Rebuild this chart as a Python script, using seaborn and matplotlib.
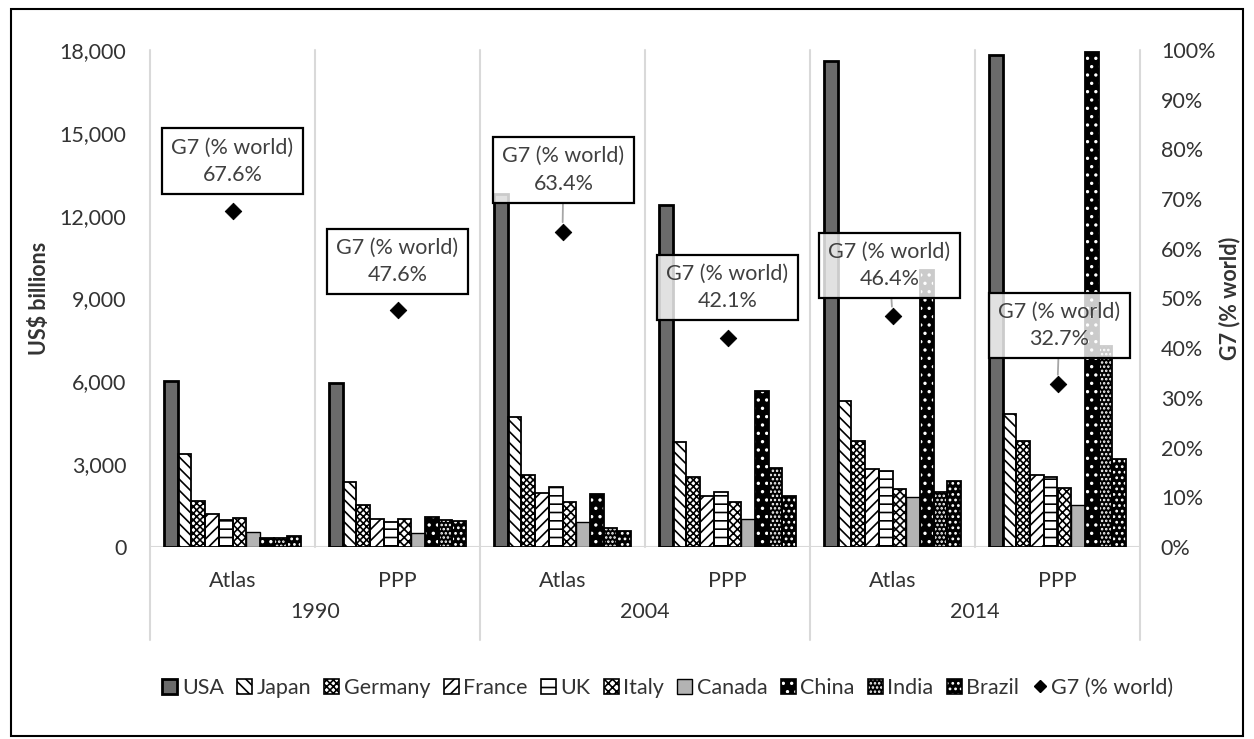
import numpy as np
import pandas as pd
import matplotlib
matplotlib.use("Agg")
import matplotlib.pyplot as plt
import matplotlib.transforms as mtrans
from matplotlib.patches import Patch, Rectangle
from matplotlib.lines import Line2D
from matplotlib.legend_handler import HandlerTuple
from matplotlib.ticker import FuncFormatter, MultipleLocator
import seaborn as sns

# ---------------- data ----------------
years = ["1990", "2004", "2014"]
methods = ["Atlas", "PPP"]
categories = ["1990 Atlas", "1990 PPP", "2004 Atlas", "2004 PPP", "2014 Atlas", "2014 PPP"]
countries = ["USA", "Japan", "Germany", "France", "UK", "Italy", "Canada", "China", "India", "Brazil"]

usa = [6000, 5930, 12790, 12370, 17610, 17830]
japan = [3370, 2370, 4720, 3815, 5305, 4830]
germany = [1680, 1520, 2610, 2550, 3840, 3840]
france = [1200, 1000, 1945, 1850, 2810, 2620]
uk = [980, 920, 2160, 2005, 2770, 2520]
italy = [1050, 1000, 1620, 1640, 2085, 2120]
canada = [560, 520, 920, 1015, 1810, 1530]
china = [340, 1075, 1910, 5660, 10050, 17920]
india = [340, 980, 680, 2875, 2000, 7270]
brazil = [400, 950, 590, 1850, 2390, 3190]
g7_share = [67.6, 47.6, 63.4, 42.1, 46.4, 32.7]

series = [usa, japan, germany, france, uk, italy, canada, china, india, brazil]
rows = []
for cname, vals in zip(countries, series):
    for cat, v in zip(categories, vals):
        rows.append({"cat": cat, "country": cname, "value": v})
df = pd.DataFrame(rows)

# ---------------- styles ----------------
# (face, hatch, hatch colour, edge lw)
styles = {
    "USA":     ("#6b6b6b", None,    "black", 2.0),
    "Japan":   ("white",   "\\\\\\", "black", 1.3),
    "Germany": ("white",   "xxxxx", "black", 1.3),
    "France":  ("white",   "///",   "black", 1.3),
    "UK":      ("white",   "--",    "black", 1.3),
    "Italy":   ("white",   "xxxx",  "black", 1.3),
    "Canada":  ("#b3b3b3", None,    "black", 1.0),
    "China":   ("black",   "..",    "white", 1.3),
    "India":   ("black",   "....",  "white", 1.3),
    "Brazil":  ("black",   "...",   "white", 1.3),
}

sns.set_theme(style="white")
plt.rcParams["font.family"] = ["Lato", "DejaVu Sans"]
plt.rcParams["hatch.linewidth"] = 1.2
text_color = "#333333"
FS = 15.5

fig = plt.figure(figsize=(12.54, 7.39), dpi=100)
W, H = 1254, 739
ax = fig.add_axes([150 / W, 1 - 547 / H, 990 / W, 497 / H])

sns.barplot(data=df, x="cat", y="value", hue="country", order=categories,
            hue_order=countries, width=0.83, gap=0, saturation=1,
            palette=["#888888"] * len(countries), legend=False, ax=ax, zorder=3)

for cname, cont in zip(countries, ax.containers):
    face, hatch, hcol, lw = styles[cname]
    for bar in cont:
        bar.set_facecolor(face)
        if hatch:
            bar.set_hatch(hatch)
            bar.set_edgecolor(hcol)
        else:
            bar.set_edgecolor("black")
        bar.set_linewidth(0)
        ax.add_patch(Rectangle(bar.get_xy(), bar.get_width(), bar.get_height(),
                               fill=False, edgecolor="black", linewidth=lw, zorder=4))

ax.set_xlim(-0.5, len(categories) - 0.5)
ax.set_ylim(0, 18000)
ax.yaxis.set_major_locator(MultipleLocator(3000))
ax.yaxis.set_major_formatter(FuncFormatter(lambda v, p: f"{int(v):,}"))
for s in ax.spines.values():
    s.set_visible(False)
ax.grid(False)

grid_c = "#d9d9d9"
trans = mtrans.blended_transform_factory(ax.transData, ax.transAxes)
for i in range(len(categories) + 1):
    xb = i - 0.5
    ylow = -0.187 if i % 2 == 0 else 0.0
    ax.plot([xb, xb], [ylow, 1.0], transform=trans, color=grid_c, lw=1.5,
            clip_on=False, zorder=1)
ax.axhline(0, color=grid_c, lw=1.5, zorder=2)

ax.set_xticks(range(len(categories)))
ax.set_xticklabels([c.split()[1] for c in categories])
ax.tick_params(axis="x", length=0, pad=17, labelsize=FS, labelcolor=text_color)
ax.tick_params(axis="y", length=0, pad=17, labelsize=FS, labelcolor=text_color)
for j, yr in enumerate(years):
    ax.text(2 * j + 0.5, -0.131, yr, transform=trans, ha="center", va="center",
            fontsize=FS, color=text_color)
ax.set_xlabel("")
ax.set_ylabel("US$ billions", fontsize=FS, fontweight="bold", color=text_color)
ax.yaxis.set_label_coords(-0.101, 0.5)

# ---------------- G7 share on secondary axis ----------------
ax2 = ax.twinx()
sns.scatterplot(x=np.arange(len(categories)), y=np.array(g7_share) / 100, marker="D",
                s=70, color="black", edgecolor="black", ax=ax2, zorder=5, legend=False)
ax2.set_ylim(0, 1)
ax2.set_xlim(-0.5, len(categories) - 0.5)
ax2.yaxis.set_major_locator(MultipleLocator(0.1))
ax2.yaxis.set_major_formatter(FuncFormatter(lambda v, p: f"{v * 100:.0f}%"))
ax2.tick_params(axis="y", length=0, pad=15, labelsize=FS, labelcolor=text_color)
for s in ax2.spines.values():
    s.set_visible(False)
ax2.grid(False)
ax2.set_ylabel("G7 (% world)", fontsize=FS, fontweight="bold", color=text_color)
ax2.yaxis.set_label_coords(1.079, 0.5)

label_dx = [0, 0, 1, 0, -3, 2]
label_dy = [50, 49, 62, 50, 51, 59]
leader = [False, False, True, False, True, True]
for i, v in enumerate(g7_share):
    ap = dict(arrowstyle="-", color="#a6a6a6", lw=1.3, shrinkA=0, shrinkB=7) if leader[i] else None
    ax2.annotate(f"G7 (% world)\n{v:.1f}%", xy=(i, v / 100), xytext=(label_dx[i], label_dy[i]),
                 textcoords="offset pixels", ha="center", va="center", fontsize=FS,
                 color="#404040", linespacing=1.45,
                 bbox=dict(boxstyle="square,pad=0.42", fc=(1, 1, 1, 0.8), ec="black", lw=1.6),
                 arrowprops=ap, zorder=6)

# ---------------- legend ----------------
handles = []
for cname in countries:
    face, hatch, hcol, lw = styles[cname]
    if hatch:
        h = (Patch(facecolor=face, edgecolor=hcol, hatch=hatch, linewidth=0),
             Patch(fill=False, edgecolor="black", linewidth=1.2))
    else:
        h = (Patch(facecolor=face, edgecolor="black", linewidth=lw),)
    handles.append(h)
handles.append(Line2D([], [], marker="D", color="black", linestyle="none", markersize=6))
labels = countries + ["G7 (% world)"]
fig.legend(handles, labels, loc="center", bbox_to_anchor=(668 / W, 1 - 688 / H), ncol=11,
           frameon=False, fontsize=FS, handlelength=0.7, handleheight=0.7,
           handletextpad=0.2, columnspacing=0.62, labelcolor=text_color,
           handler_map={tuple: HandlerTuple(ndivide=1, pad=0)})

# chart border
fig.patches.append(Rectangle((11 / W, 1 - 736 / H), 1232 / W, 727 / H, transform=fig.transFigure,
                             fill=False, edgecolor="black", linewidth=1.5))

fig.savefig("out.png", dpi=100)
